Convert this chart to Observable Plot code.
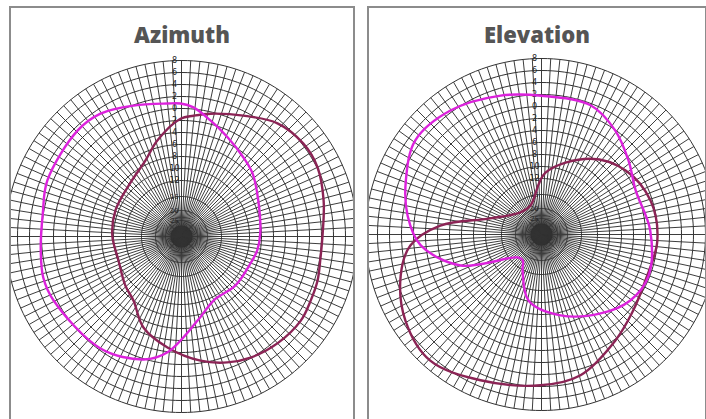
<!DOCTYPE html>
<html><head><meta charset="utf-8">
<script src="https://cdn.jsdelivr.net/npm/d3@7"></script>
<script src="https://cdn.jsdelivr.net/npm/@observablehq/plot@0.6"></script>
<style>
body{margin:0;background:#fff;width:706px;height:419px;overflow:hidden;position:relative;font-family:"Open Sans",sans-serif}
.panel{position:absolute;top:6px;height:440px;border:2px solid #8c8c8c;box-sizing:border-box;overflow:hidden;background:#fff}
.panel h2{position:absolute;left:0;right:0;top:15px;margin:0;text-align:center;font-size:22px;line-height:22px;font-weight:800;color:#555;z-index:2}
.panel svg{position:absolute;max-width:none !important;height:360px !important}
</style></head><body>
<div id="az" class="panel" style="left:9px;width:346px"><h2>Azimuth</h2></div>
<div id="el" class="panel" style="left:367px;width:340px"><h2>Elevation</h2></div>
<script>
// grid rings (dB) and their labels
const ringDb = [8, 6, 4, 2, 0, -2, -4, -6, -8, -10, -12, -15, -20, -25, -30, -40];
const ringLabelDb = [8, 6, 4, 2, 0, -2, -4, -6, -8, -10, -12, -15, -20, -25];
const ringLabelText = ["8","6","4","2","0","2","4","6","8","10","12","15","20","25"];
const spokeAngles = d3.range(0, 360, 3);

// Azimuth: magenta series
const azMagAngle = [5.3, 14, 24.9, 38.1, 48.4, 64.9, 87.8, 100.4, 111.4, 132.2, 153.4, 169, 186.9, 197, 215.9, 243.4, 253.5, 265.5, 279.4, 292.7, 315.5, 326.6, 339.9, 354, 359.6];
const azMagDb    = [0.27, -1.4, -3.1, -4.6, -5.5, -7.2, -8.2, -8.5, -9.0, -9.2, -9.4, -7.1, -1.9, 0.1, 1.7, 2.5, 2.7, 2.2, 2.1, 2.9, 3.4, 3.2, 1.9, 0.95, 0.83];
// Azimuth: dark red series
const azRedAngle = [5.7, 13.3, 27.1, 40.3, 52.7, 63.1, 75.8, 88.8, 98.6, 107.9, 116.4, 125.2, 138.1, 150.3, 160, 171.3, 187.2, 202.7, 216.9, 228.8, 249.2, 270.8, 291.5, 313.9, 334.7, 346, 359.5];
const azRedDb    = [-1.1, -0.3, 1.3, 3.4, 4.2, 4.1, 3.1, 2.2, 2.1, 2.5, 2.7, 3.0, 2.6, 1.9, 1.0, -0.4, -2.7, -4.9, -8.0, -8.9, -10.1, -9.8, -9.5, -9.1, -7.3, -4.8, -1.7];

// Elevation: magenta series
const elMagAngle = [0, 20.8, 35.4, 49.6, 64.9, 87.9, 111, 126.6, 143.2, 166.8, 191, 207.8, 216, 226, 249, 265, 278, 291.7, 306.7, 323.7, 343.6];
const elMagDb    = [1.8, 1.7, -0.1, -2.3, -4.0, -3.2, -2.2, -2.9, -4.9, -7.5, -10.1, -14.9, -17.9, -17.5, -6.9, -1.1, 1.2, 3.0, 4.9, 4.3, 2.8];
// Elevation: dark red series
const elRedAngle = [3.7, 32.8, 52.7, 72.7, 93, 113.9, 130.6, 145.1, 164.5, 180.4, 202.7, 221.4, 237.7, 253.8, 265.2, 275, 287.4, 316.3, 339.2];
const elRedDb    = [-11, -6.3, -3.7, -2.3, -2.0, -2.4, -1.4, 0.2, 3.0, 3.8, 5.0, 6.7, 5.5, 3.1, 0.6, -4.4, -12.4, -18.4, -18.2];

const magenta = "#dc22dc";
const darkRed = "#8b2455";

// dB -> radius (px units of the plot's x/y scales)
const rad = d3.scaleLinear().domain([-40, -30, -25, -20, -15, -12, 8]).range([4, 9, 16, 26, 40, 56, 176]).clamp(true);
const R = rad(8);
const toXY = (a, db) => { const t = a * Math.PI / 180, r = rad(db); return {x: r * Math.sin(t), y: r * Math.cos(t)}; };
const series = (angles, dbs) => angles.map((a, i) => toXY(a, dbs[i]));

const ringPts = ringDb.flatMap(db => d3.range(0, 361, 2).map(a => ({db, ...toXY(a, db)})));

function chart(mag, red) {
  return Plot.plot({
    width: 360, height: 360, margin: 0,
    style: {maxWidth: "none", overflow: "visible"},
    x: {domain: [-180, 180], axis: null},
    y: {domain: [-180, 180], axis: null},
    marks: [
      Plot.dot([0], {x: () => 0, y: () => 0, r: 11, fill: "#111", stroke: null}),
      Plot.line(ringPts, {x: "x", y: "y", z: "db", stroke: "#333", strokeWidth: 1}),
      Plot.link(spokeAngles, {x1: () => 0, y1: () => 0, x2: a => R * Math.sin(a * Math.PI / 180), y2: a => R * Math.cos(a * Math.PI / 180), stroke: "#333", strokeWidth: 0.95}),
      Plot.text(ringLabelDb.map((db, i) => ({db, t: ringLabelText[i]})), {x: () => 0, y: d => rad(d.db), text: "t", dx: -7, fontSize: d => d.db < -12 ? 6.5 : 8, fill: "#222", fontFamily: "DejaVu Sans"}),
      Plot.line(red, {x: "x", y: "y", stroke: darkRed, strokeWidth: 2.4, curve: "catmull-rom-closed"}),
      Plot.line(mag, {x: "x", y: "y", stroke: magenta, strokeWidth: 2.4, curve: "catmull-rom-closed"})
    ]
  });
}

const az = chart(series(azMagAngle, azMagDb), series(azRedAngle, azRedDb));
az.style.left = "-10px"; az.style.top = "48px";
document.getElementById("az").appendChild(az);

const el = chart(series(elMagAngle, elMagDb), series(elRedAngle, elRedDb));
el.style.left = "-8px"; el.style.top = "46px";
document.getElementById("el").appendChild(el);
</script>
</body></html>
